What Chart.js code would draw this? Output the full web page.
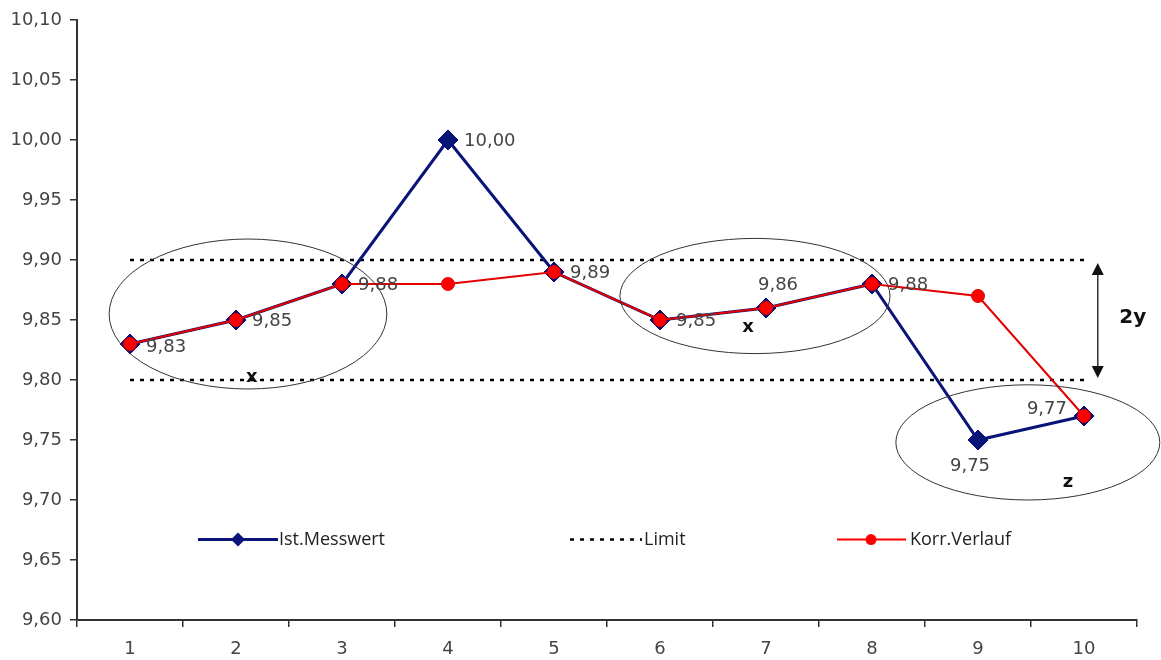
<!DOCTYPE html>
<html>
<head>
<meta charset="utf-8">
<script src="https://cdn.jsdelivr.net/npm/chart.js@4.4.0/dist/chart.umd.min.js"></script>
<style>
  html, body { margin: 0; padding: 0; background: #fff; }
  #wrap { width: 1161px; height: 660px; }
</style>
</head>
<body>
<div id="wrap"><canvas id="chart"></canvas></div>
<script>
const categories = ['1', '2', '3', '4', '5', '6', '7', '8', '9', '10']
const istMesswert = [9.83, 9.85, 9.88, 10.00, 9.89, 9.85, 9.86, 9.88, 9.75, 9.77]
const korrVerlauf = [9.83, 9.85, 9.88, 9.88, 9.89, 9.85, 9.86, 9.88, 9.87, 9.77]
const limitUpper = [9.90, 9.90, 9.90, 9.90, 9.90, 9.90, 9.90, 9.90, 9.90, 9.90]
const limitLower = [9.80, 9.80, 9.80, 9.80, 9.80, 9.80, 9.80, 9.80, 9.80, 9.80]

const NAVY = '#0a1478'
const RED = '#ff0000'
const FONT = '"DejaVu Sans", Verdana, sans-serif'
const fmt = v => v.toFixed(2).replace('.', ',')

// where each value label sits relative to its point
const labelPlace = ['right', 'right', 'right', 'right', 'right', 'right', 'above', 'right', 'below', 'leftAbove']

const annotations = {
  id: 'annotations',
  afterDatasetsDraw(chart) {
    const { ctx, scales: { x, y } } = chart
    const step = x.getPixelForValue(1) - x.getPixelForValue(0)
    const px = i => x.getPixelForValue(0) + i * step
    const py = v => y.getPixelForValue(v)

    ctx.save()

    // ellipses
    ctx.strokeStyle = '#333'
    ctx.lineWidth = 1
    const ellipses = [
      [1.113, 9.855, 1.31, 0.0625],
      [5.896, 9.870, 1.274, 0.048],
      [8.47, 9.748, 1.245, 0.048],
    ]
    ellipses.forEach(([cx, cy, rx, ry]) => {
      ctx.beginPath()
      ctx.ellipse(px(cx), py(cy), rx * step, Math.abs(py(cy + ry) - py(cy)), 0, 0, Math.PI * 2)
      ctx.stroke()
    })

    // value labels
    ctx.font = '18px ' + FONT
    ctx.fillStyle = '#444'
    istMesswert.forEach((v, i) => {
      const X = px(i), Y = py(v)
      const t = fmt(v)
      const place = labelPlace[i]
      if (place === 'right') {
        ctx.textAlign = 'left'; ctx.textBaseline = 'middle'
        ctx.fillText(t, X + 16, Y + (i === 0 ? 3 : 1))
      } else if (place === 'above') {
        ctx.textAlign = 'center'; ctx.textBaseline = 'bottom'
        ctx.fillText(t, X + 12, Y - 14)
      } else if (place === 'below') {
        ctx.textAlign = 'center'; ctx.textBaseline = 'top'
        ctx.fillText(t, X - 8, Y + 17)
      } else {
        ctx.textAlign = 'right'; ctx.textBaseline = 'bottom'
        ctx.fillText(t, X - 17, Y + 2)
      }
    })

    // double arrow "2y"
    const ax = px(9.13)
    const top = py(9.8975), bot = py(9.8017)
    ctx.strokeStyle = '#333'
    ctx.fillStyle = '#111'
    ctx.lineWidth = 1.5
    ctx.beginPath(); ctx.moveTo(ax, top + 10); ctx.lineTo(ax, bot - 10); ctx.stroke()
    ctx.beginPath(); ctx.moveTo(ax, top); ctx.lineTo(ax - 6, top + 12); ctx.lineTo(ax + 6, top + 12); ctx.closePath(); ctx.fill()
    ctx.beginPath(); ctx.moveTo(ax, bot); ctx.lineTo(ax - 6, bot - 12); ctx.lineTo(ax + 6, bot - 12); ctx.closePath(); ctx.fill()

    ctx.font = 'bold 20px ' + FONT
    ctx.fillStyle = '#111'
    ctx.textAlign = 'center'; ctx.textBaseline = 'middle'
    ctx.fillText('2y', px(9.46), py(9.852))
    ctx.font = 'bold 18px ' + FONT
    ctx.fillText('x', px(1.15), py(9.8025))
    ctx.fillText('x', px(5.83), py(9.844))
    ctx.fillText('z', px(8.85), py(9.715))

    // legend inside the plot
    const ly = py(9.667)
    ctx.font = '18px "Open Sans", "Noto Sans", sans-serif'
    ctx.textAlign = 'left'
    ctx.textBaseline = 'middle'

    ctx.strokeStyle = NAVY; ctx.lineWidth = 3
    ctx.beginPath(); ctx.moveTo(198, ly); ctx.lineTo(278, ly); ctx.stroke()
    ctx.fillStyle = NAVY
    ctx.beginPath(); ctx.moveTo(238, ly - 7); ctx.lineTo(245, ly); ctx.lineTo(238, ly + 7); ctx.lineTo(231, ly); ctx.closePath(); ctx.fill()
    ctx.fillStyle = '#222'
    ctx.fillText('Ist.Messwert', 279, ly)

    ctx.strokeStyle = '#000'; ctx.lineWidth = 2.5
    ctx.setLineDash([4, 6])
    ctx.beginPath(); ctx.moveTo(570, ly); ctx.lineTo(642, ly); ctx.stroke()
    ctx.setLineDash([])
    ctx.fillText('Limit', 644, ly)

    ctx.strokeStyle = RED; ctx.lineWidth = 2
    ctx.beginPath(); ctx.moveTo(837, ly); ctx.lineTo(906, ly); ctx.stroke()
    ctx.fillStyle = RED
    ctx.beginPath(); ctx.arc(871, ly, 5.5, 0, Math.PI * 2); ctx.fill()
    ctx.fillStyle = '#222'
    ctx.fillText('Korr.Verlauf', 910, ly)

    ctx.restore()
  }
}

new Chart(document.getElementById('chart'), {
  type: 'line',
  data: {
    labels: categories,
    datasets: [
      {
        label: 'Limit',
        data: limitUpper,
        borderColor: '#000',
        borderWidth: 2.5,
        borderDash: [4, 6],
        pointRadius: 0,
        order: 3,
      },
      {
        label: 'Limit',
        data: limitLower,
        borderColor: '#000',
        borderWidth: 2.5,
        borderDash: [4, 6],
        pointRadius: 0,
        order: 3,
      },
      {
        label: 'Ist.Messwert',
        data: istMesswert,
        borderColor: NAVY,
        backgroundColor: NAVY,
        borderWidth: 3,
        pointStyle: 'rectRot',
        pointRadius: 10,
        pointBorderWidth: 1,
        order: 2,
      },
      {
        label: 'Korr.Verlauf',
        data: korrVerlauf,
        borderColor: '#e40000',
        backgroundColor: RED,
        borderWidth: 2,
        pointStyle: 'circle',
        pointRadius: 6.5,
        pointBorderColor: '#e00000',
        pointBorderWidth: 1,
        order: 1,
      },
    ],
  },
  options: {
    responsive: true,
    maintainAspectRatio: false,
    animation: false,
    layout: { padding: { top: 20, right: 24, left: 0, bottom: 0 } },
    plugins: {
      legend: { display: false },
      tooltip: { enabled: false },
    },
    scales: {
      x: {
        offset: true,
        grid: { offset: true, drawOnChartArea: false, tickLength: 7, color: '#333', lineWidth: 1.5 },
        border: { color: '#333', width: 2 },
        ticks: { color: '#444', font: { size: 18, family: FONT }, padding: 12 },
        afterFit(scale) { scale.height = 40 },
      },
      y: {
        min: 9.6,
        max: 10.1,
        grid: { drawOnChartArea: false, tickLength: 7, color: '#333', lineWidth: 1.5 },
        border: { color: '#333', width: 2 },
        ticks: {
          stepSize: 0.05,
          color: '#444',
          font: { size: 18, family: FONT },
          padding: 8,
          callback: v => fmt(v),
        },
        afterFit(scale) { scale.width = 77 },
      },
    },
  },
  plugins: [annotations],
})
</script>
</body>
</html>
